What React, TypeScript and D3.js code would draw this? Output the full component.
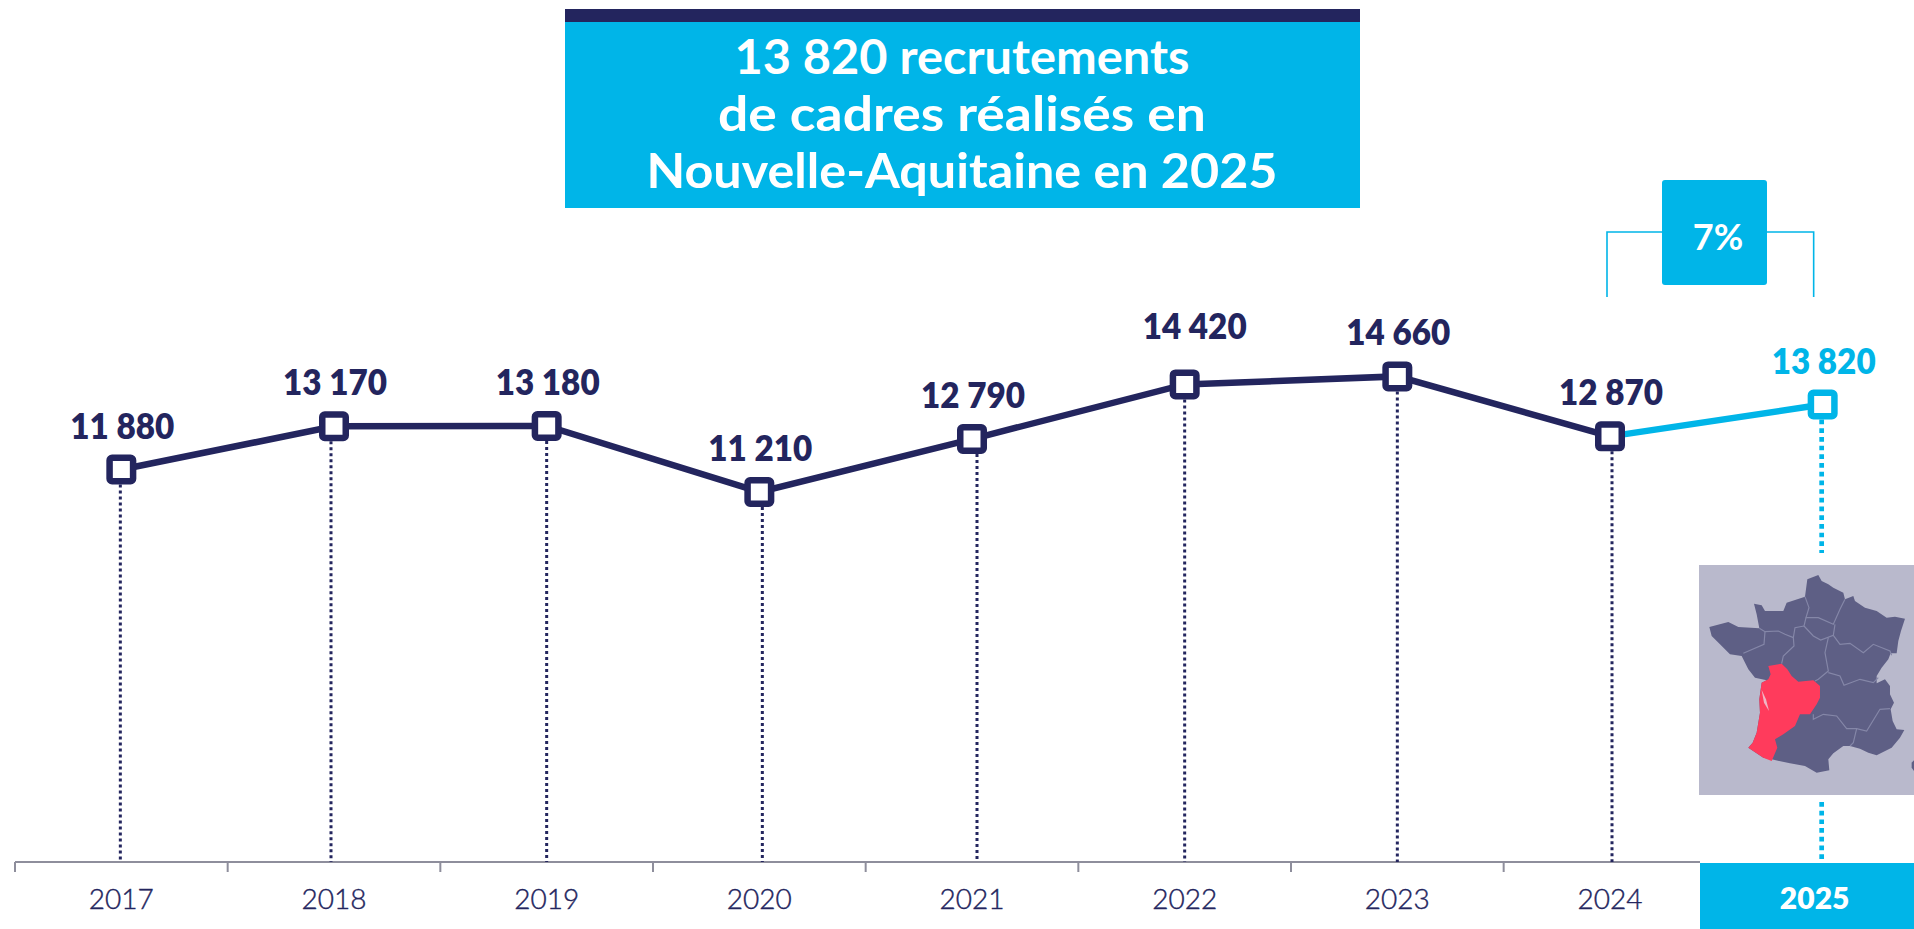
import React from "react";
import * as d3 from "d3";

const years = ["2017", "2018", "2019", "2020", "2021", "2022", "2023", "2024", "2025"];
const recruitments = [11880, 13170, 13180, 11210, 12790, 14420, 14660, 12870, 13820];
const valueLabels = ["11 880", "13 170", "13 180", "11 210", "12 790", "14 420", "14 660", "12 870", "13 820"];
const titleLines = ["13 820 recrutements", "de cadres réalisés en", "Nouvelle-Aquitaine en 2025"];
const titleWidths = [455, 488, 631];
const dropOffsets = [-1, -3, 0, 3, 5, 0, 0, 2, -1];
const changeLabel = "7%";

const NAVY = "#23255e";
const CYAN = "#00b5e8";
const FONT = "Lato, sans-serif";

const x = d3.scaleBand<string>().domain(years).range([15, 1929]);
const y = d3.scaleLinear().domain([11000, 15000]).range([499, 365]);
const cx = (yr: string) => (x(yr) as number) + x.bandwidth() / 2;
const points = years.map((yr, i) => ({ yr, v: recruitments[i], label: valueLabels[i], drop: dropOffsets[i] }));
const line = d3.line<{ yr: string; v: number }>().x((d) => cx(d.yr)).y((d) => y(d.v));

const AXIS_Y = 862;
const FRANCE = "M322,40L355,27L365,45L385,55L400,65L430,80L435,100L460,90L465,105L495,125L530,135L560,155L585,152L615,158L603,195L595,225L590,262L572,262L565,280L545,305L530,330L530,352L555,340L570,360L570,385L582,410L572,430L578,465L590,490L613,492L600,515L575,545L530,568L505,560L480,548L450,540L430,540L400,562L385,580L388,613L350,620L315,600L270,592L215,580L190,575L145,545L158,530L170,500L180,440L178,400L185,350L200,343L165,335L145,310L125,270L90,265L60,235L35,210L28,183L85,168L115,183L178,187L170,145L162,113L185,118L195,135L250,135L260,110L315,92Z";
const AQUITAINE = "M205,300L245,293L262,310L275,330L295,347L340,343L360,360L360,395L350,415L330,445L300,445L285,480L250,505L225,520L232,545L215,585L190,575L145,545L158,530L170,500L180,440L178,400L185,350L205,340L212,325Z";
const ESTUARY = "M185,372L198,400L207,435L192,410Z";
const CORSICA = "M635,590L642,583V615L635,605Z";
const BORDERS = [
  "M315,92L327,125L318,155L355,155L400,175L420,130L435,100",
  "M318,155L312,180L340,210L362,222L400,208L405,175",
  "M400,208L420,235L450,232L490,260L520,235L570,255L575,268",
  "M312,180L285,185L280,215L255,205L235,195L195,197L178,187",
  "M195,197L192,235L130,262",
  "M280,215L282,240L250,270L245,293",
  "M385,215L375,260L385,315L355,340L345,345",
  "M385,320L420,330L432,358L480,340L520,350L535,335",
  "M340,445L340,460L370,445L410,450L440,488L470,488L500,495L540,430L570,428",
  "M470,488L460,530L450,540",
];

export default function App() {
  const last = points[points.length - 1];
  const prev = points[points.length - 2];
  const lastX = cx(last.yr) + last.drop;
  return (
    <svg width={1914} height={929} style={{ position: "absolute", left: 0, top: 0, background: "#fff" }} fontFamily={FONT}>
      {/* title */}
      <rect x={565} y={20} width={795} height={188} fill={CYAN} />
      <rect x={565} y={9} width={795} height={13} fill={NAVY} />
      {titleLines.map((t, i) => (
        <text key={t} x={962} y={74 + i * 57} textAnchor="middle" fontSize={47} fontWeight={700} fill="#fff" textLength={titleWidths[i]} lengthAdjust="spacingAndGlyphs">{t}</text>
      ))}

      {/* evolution bracket */}
      <path d={`M${cx(prev.yr) - 3},297V232H${cx(last.yr) - 9}V297`} fill="none" stroke={CYAN} strokeWidth={1.6} />
      <rect x={1662} y={180} width={105} height={105} rx={3} fill={CYAN} />
      <text x={1718} y={250} textAnchor="middle" fontSize={36} fontWeight={700} fill="#fff">{changeLabel}</text>

      {/* axis */}
      <line x1={15} x2={1700} y1={AXIS_Y} y2={AXIS_Y} stroke="#8e8e9c" strokeWidth={2} />
      {years.slice(0, 8).map((yr) => (
        <line key={yr} x1={x(yr)} x2={x(yr)} y1={AXIS_Y} y2={AXIS_Y + 10} stroke="#8e8e9c" strokeWidth={2} />
      ))}
      <rect x={1700} y={AXIS_Y + 1} width={214} height={929 - AXIS_Y} fill={CYAN} />

      {/* drop lines */}
      {points.slice(0, 8).map((d) => (
        <line key={d.yr} x1={cx(d.yr) + d.drop} x2={cx(d.yr) + d.drop} y1={y(d.v) + 15} y2={AXIS_Y} stroke={NAVY} strokeWidth={3} strokeDasharray="3 3" />
      ))}
      <line x1={lastX} x2={lastX} y1={y(last.v) + 15} y2={553} stroke={CYAN} strokeWidth={4.7} strokeDasharray="4.7 4" />
      <line x1={lastX} x2={lastX} y1={802} y2={AXIS_Y} stroke={CYAN} strokeWidth={4.7} strokeDasharray="4.7 4" />

      {/* map */}
      <rect x={1699} y={565} width={215} height={230} fill="#b9b9cc" />
      <g transform="translate(1700,566) scale(0.3333)">
        <path d={FRANCE} fill="#5e5f85" />
        <path d={CORSICA} fill="#5e5f85" />
        {BORDERS.map((b) => <path key={b} d={b} fill="none" stroke="#8587a8" strokeWidth={3.5} />)}
        <path d={AQUITAINE} fill="#ff3b5c" />
        <path d={ESTUARY} fill="#f0b5c4" />
      </g>

      {/* series */}
      <path d={line(points.slice(0, 8)) as string} fill="none" stroke={NAVY} strokeWidth={6.5} />
      <path d={line([prev, last]) as string} fill="none" stroke={CYAN} strokeWidth={6.5} />
      {points.map((d) => {
        const c = d.yr === last.yr ? CYAN : NAVY;
        return <rect key={d.yr} x={cx(d.yr) - 11.75} y={y(d.v) - 11.75} width={23.5} height={23.5} rx={2.5} fill="#fff" stroke={c} strokeWidth={6.5} />;
      })}
      {points.map((d) => (
        <text key={d.yr} x={cx(d.yr) + (d.yr === "2022" ? 10 : 1)} y={y(d.v) - (d.yr === "2022" ? 45 : 31)} textAnchor="middle" fontSize={35} fontWeight={800} fill={d.yr === last.yr ? CYAN : NAVY} textLength={104} lengthAdjust="spacingAndGlyphs">{d.label}</text>
      ))}

      {/* year labels */}
      {years.map((yr) => (
        <text key={yr} x={cx(yr) + (yr === last.yr ? -8 : 0)} y={909} textAnchor="middle" fontSize={yr === last.yr ? 30 : 28} fontWeight={yr === last.yr ? 800 : 300} fill={yr === last.yr ? "#fff" : NAVY} stroke={yr === last.yr ? "none" : NAVY} strokeWidth={0.4}>{yr}</text>
      ))}
    </svg>
  );
}
